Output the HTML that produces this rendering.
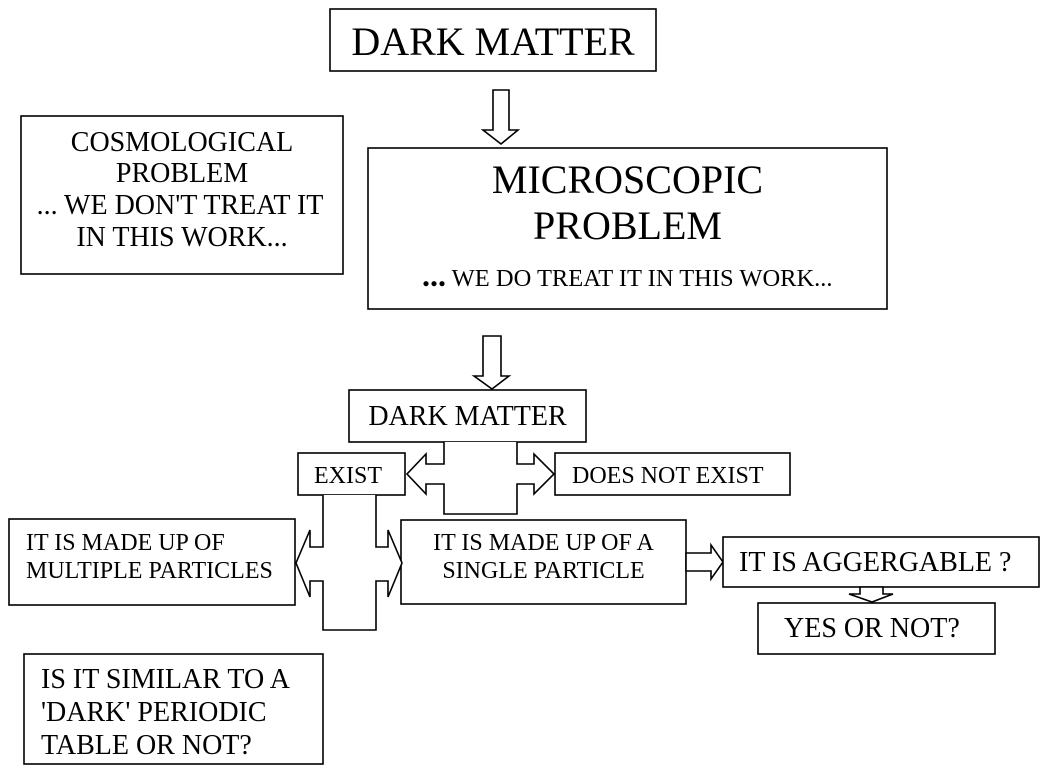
<!DOCTYPE html>
<html>
<head>
<meta charset="utf-8">
<style>
  html, body { margin: 0; padding: 0; background: #fff; }
  svg { display: block; }
  text { font-family: "Liberation Serif", "Times New Roman", serif; fill: #000; }
</style>
</head>
<body>
<svg width="1047" height="772" viewBox="0 0 1047 772" xmlns="http://www.w3.org/2000/svg">
  <rect x="0" y="0" width="1047" height="772" fill="#fff"/>
  <g fill="#fff" stroke="#000" stroke-width="1.6" stroke-linejoin="miter">
    <!-- top box -->
    <rect x="330" y="9" width="326" height="62"/>
    <!-- arrow 1 -->
    <polygon points="493,90 509,90 509,130 518,130 501,144 483,130 493,130"/>
    <!-- cosmological box -->
    <rect x="21" y="116" width="322" height="158"/>
    <!-- microscopic box -->
    <rect x="368" y="148" width="519" height="161"/>
    <!-- arrow 2 -->
    <polygon points="483,336 501,336 501,376 509,376 492,389 474,376 483,376"/>
    <!-- dark matter 2 -->
    <rect x="349" y="390" width="237" height="52"/>
    <!-- exist -->
    <rect x="298" y="453" width="107" height="42"/>
    <!-- does not exist -->
    <rect x="555" y="453" width="235" height="42"/>
    <!-- connector 1 -->
    <path d="M444,442 L444,464 L426,464 L426,454 L407,474 L426,494 L426,484 L444,484 L444,514 L517,514 L517,484 L534,484 L534,494 L554,474 L534,454 L534,464 L517,464 L517,442"/>
    <!-- multiple particles -->
    <rect x="9" y="519" width="286" height="86"/>
    <!-- single particle -->
    <rect x="401" y="520" width="285" height="84"/>
    <!-- connector 2 -->
    <path d="M323,495 L323,547 L310,547 L310,530 L296,563 L310,597 L310,581 L323,581 L323,630 L376,630 L376,581 L388,581 L388,597 L402,563 L388,530 L388,547 L376,547 L376,495"/>
    <!-- similar box -->
    <rect x="24" y="654" width="299" height="110"/>
    <!-- arrow right -->
    <polygon points="686,553 711,553 711,545 723,562 711,579 711,571 686,571"/>
    <!-- aggergable -->
    <rect x="723" y="537" width="316" height="50"/>
    <!-- small down arrow -->
    <polygon points="860,587 883,587 883,594 893,594 872,602 849,594 860,594"/>
    <!-- yes or not -->
    <rect x="758" y="603" width="237" height="51"/>
  </g>

  <text x="493" y="55" font-size="40" text-anchor="middle">DARK MATTER</text>

  <g font-size="28" text-anchor="middle">
    <text x="182" y="151">COSMOLOGICAL</text>
    <text x="182" y="182">PROBLEM</text>
    <text x="180" y="214">... WE DON'T TREAT IT</text>
    <text x="182" y="246">IN THIS WORK...</text>
  </g>

  <text x="627.5" y="193" font-size="40" text-anchor="middle">MICROSCOPIC</text>
  <text x="627.5" y="239" font-size="40" text-anchor="middle">PROBLEM</text>
  <text x="422" y="286" font-size="24.5"><tspan font-weight="bold" font-size="32">...</tspan> WE DO TREAT IT IN THIS WORK...</text>

  <text x="467.5" y="425" font-size="28" text-anchor="middle">DARK MATTER</text>
  <text x="348" y="483" font-size="24" text-anchor="middle">EXIST</text>
  <text x="572" y="483" font-size="24">DOES NOT EXIST</text>

  <text x="26" y="550" font-size="24">IT IS MADE UP OF</text>
  <text x="26" y="578" font-size="24">MULTIPLE PARTICLES</text>

  <text x="543.5" y="550" font-size="24" text-anchor="middle">IT IS MADE UP OF A</text>
  <text x="543.5" y="578" font-size="24" text-anchor="middle">SINGLE PARTICLE</text>

  <text x="739" y="571" font-size="28">IT IS AGGERGABLE ?</text>
  <text x="784" y="637" font-size="28">YES OR NOT?</text>

  <text x="41" y="688" font-size="28">IS IT SIMILAR TO A</text>
  <text x="41" y="721" font-size="28">'DARK' PERIODIC</text>
  <text x="41" y="754" font-size="28">TABLE OR NOT?</text>
</svg>
</body>
</html>
